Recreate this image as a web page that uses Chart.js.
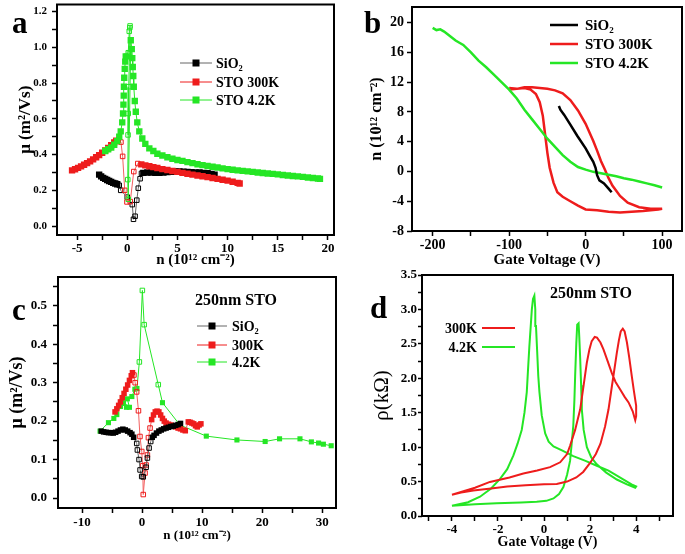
<!DOCTYPE html>
<html>
<head>
<meta charset="utf-8">
<script src="https://cdn.jsdelivr.net/npm/chart.js@4.4.1/dist/chart.umd.min.js"></script>
<style>
  body { margin: 0; background: #fff; width: 685px; height: 554px; overflow: hidden; position: relative; }
  canvas { position: absolute; }
</style>
</head>
<body>
<canvas id="ca" width="340" height="270" style="left:0;top:0"></canvas>
<canvas id="cb" width="345" height="270" style="left:340px;top:0"></canvas>
<canvas id="cc" width="340" height="284" style="left:0;top:270px"></canvas>
<canvas id="cd" width="345" height="284" style="left:340px;top:270px"></canvas>
<script>
// ---- panel a : mobility vs carrier density (n in 1e12 cm^-2, mu in m^2/Vs)
const aSiO2LeftX = [-2.8, -2.6, -2.4, -2.2, -2.0, -1.8, -1.6, -1.4, -1.2, -1.0];
const aSiO2LeftY = [0.288, 0.278, 0.27, 0.264, 0.258, 0.252, 0.247, 0.242, 0.238, 0.234];
const aSiO2MidX = [-0.8, -0.65, 0.0, 0.5, 0.62, 0.78, 0.95, 1.1, 1.28, 1.42];
const aSiO2MidY = [0.228, 0.2, 0.162, 0.12, 0.038, 0.055, 0.145, 0.212, 0.265, 0.295];
const aSiO2RightX = [1.6, 2.0, 2.4, 2.8, 3.2, 3.6, 4.0, 4.4, 4.8, 5.2, 5.6, 6.0, 6.4, 6.8, 7.2, 7.6, 8.0, 8.4, 8.7];
const aSiO2RightY = [0.298, 0.3, 0.3, 0.298, 0.298, 0.3, 0.302, 0.304, 0.306, 0.306, 0.304, 0.303, 0.302, 0.3, 0.3, 0.298, 0.296, 0.292, 0.288];

const aRedLeftX = [-5.5, -5.2, -4.9, -4.6, -4.3, -4.0, -3.7, -3.4, -3.1, -2.8, -2.5, -2.2, -1.9, -1.6, -1.3, -1.1];
const aRedLeftY = [0.312, 0.318, 0.326, 0.334, 0.343, 0.352, 0.362, 0.373, 0.385, 0.397, 0.41, 0.423, 0.437, 0.452, 0.468, 0.478];
const aRedMidX = [-0.9, -0.63, -0.46, -0.25, -0.03, 0.3, 0.65, 1.05];
const aRedMidY = [0.48, 0.47, 0.39, 0.2, 0.135, 0.137, 0.305, 0.35];
const aRedRightX = [1.4, 1.8, 2.2, 2.6, 3.0, 3.5, 4.0, 4.5, 5.0, 5.5, 6.0, 6.5, 7.0, 7.5, 8.0, 8.5, 9.0, 9.5, 10.0, 10.5, 11.0, 11.2];
const aRedRightY = [0.345, 0.34, 0.335, 0.33, 0.325, 0.319, 0.314, 0.308, 0.303, 0.298, 0.293, 0.288, 0.283, 0.279, 0.274, 0.269, 0.264, 0.259, 0.254, 0.248, 0.242, 0.238];

const aGreenLeftX = [-2.2, -1.9, -1.6, -1.3, -1.0, -0.8, -0.65, -0.5, -0.42, -0.38, -0.35, -0.33, -0.3, -0.25, -0.2, -0.15];
const aGreenLeftY = [0.42, 0.43, 0.44, 0.455, 0.475, 0.5, 0.53, 0.58, 0.63, 0.68, 0.73, 0.78, 0.83, 0.88, 0.92, 0.95];
const aGreenMidX = [-0.1, 0.1, 0.2, 0.25, 0.28, 0.22, 0.15, 0.1, 0.08, 0.05, 0.1];
const aGreenMidY = [0.95, 0.97, 1.09, 1.11, 1.12, 0.97, 0.78, 0.63, 0.51, 0.26, 0.15];
const aGreenRightX = [0.35, 0.45, 0.5, 0.55, 0.6, 0.65, 0.75, 0.85, 1.0, 1.2, 1.5, 1.8, 2.2, 2.6, 3.0, 3.5, 4.0, 4.5, 5.0,
  5.5, 6.0, 6.5, 7.0, 7.5, 8.0, 8.5, 9.0, 9.5, 10.0, 10.5, 11.0, 11.5, 12.0, 12.5, 13.0, 13.5, 14.0, 14.5, 15.0,
  15.5, 16.0, 16.5, 17.0, 17.5, 18.0, 18.5, 19.0, 19.2];
const aGreenRightY = [1.04, 0.99, 0.94, 0.89, 0.84, 0.78, 0.7, 0.64, 0.58, 0.53, 0.49, 0.46, 0.435, 0.42, 0.405, 0.395, 0.385, 0.377, 0.37,
  0.365, 0.358, 0.352, 0.346, 0.341, 0.336, 0.332, 0.328, 0.323, 0.319, 0.315, 0.312, 0.309, 0.306, 0.303, 0.3, 0.297, 0.294, 0.292, 0.289,
  0.286, 0.283, 0.28, 0.278, 0.275, 0.272, 0.269, 0.266, 0.264];

// ---- panel b : n vs gate voltage
const bSiO2V = [-35, -33, -28, -20, -11, 0, 6, 10, 13, 15, 18, 24, 30, 34];
const bSiO2N = [8.8, 8.3, 7.6, 6.3, 4.8, 3.1, 2.0, 1.3, 0.5, -0.5, -1.2, -1.6, -2.3, -2.8];
const bSto300V = [-100, -90, -80, -70, -60, -50, -40, -30, -20, -10, 0, 10, 15, 20, 25, 30, 35, 45, 55, 70, 85, 100,
  95, 85, 75, 60, 45, 30, 15, 0, -10, -20, -30, -37, -42, -47, -50, -53, -56, -60, -65, -72, -80, -90, -100];
const bSto300N = [11.2, 11.1, 11.3, 11.3, 11.2, 11.1, 10.9, 10.5, 9.6, 8.2, 6.4, 4.1, 2.8, 1.4, 0.3, -0.9, -1.9, -3.3, -4.2, -4.8, -5.0, -5.0,
  -5.1, -5.2, -5.3, -5.4, -5.5, -5.4, -5.2, -5.1, -4.6, -4.0, -3.4, -2.8, -1.5, 0.5, 2.5, 5.0, 7.5, 9.3, 10.4, 11.0, 11.2, 11.1, 11.0];
const bSto4V = [-200, -195, -190, -185, -180, -175, -170, -165, -160, -150, -140, -130, -120, -110, -100, -90, -80, -70, -60, -50,
  -40, -30, -20, -10, 0, 10, 20, 30, 40, 50, 60, 70, 80, 90, 100];
const bSto4N = [19.3, 19.0, 19.1, 18.8, 18.4, 18.0, 17.6, 17.3, 17.0, 16.0, 14.9, 14.0, 13.0, 12.0, 11.0, 9.8, 8.3, 7.0, 5.7, 4.4,
  3.3, 2.2, 1.3, 0.6, 0.25, -0.05, -0.25, -0.45, -0.65, -0.9, -1.1, -1.35, -1.6, -1.85, -2.15];

// ---- panel c : 250nm STO mobility
const cSiO2LeftX = [-6.8, -6.4, -6.0, -5.6, -5.2, -4.8, -4.4, -4.0, -3.6, -3.2, -2.8, -2.4, -2.0, -1.7, -1.4];
const cSiO2LeftY = [0.174, 0.172, 0.171, 0.17, 0.17, 0.169, 0.171, 0.174, 0.177, 0.179, 0.177, 0.174, 0.17, 0.166, 0.158];
const cSiO2MidX = [-0.89, -0.78, -0.5, -0.33, -0.06, 0.2, 0.67, 0.89, 1.17, 1.44];
const cSiO2MidY = [0.142, 0.125, 0.1, 0.073, 0.056, 0.055, 0.08, 0.104, 0.13, 0.147];
const cSiO2RightX = [1.7, 2.0, 2.4, 2.8, 3.2, 3.6, 4.0, 4.4, 4.8, 5.2, 5.6, 6.0, 6.4];
const cSiO2RightY = [0.158, 0.163, 0.169, 0.174, 0.177, 0.18, 0.182, 0.184, 0.186, 0.187, 0.189, 0.191, 0.194];

const cRedLeftX = [-4.5, -4.2, -3.9, -3.6, -3.3, -3.0, -2.7, -2.4, -2.1, -1.8, -1.6];
const cRedLeftY = [0.224, 0.232, 0.241, 0.25, 0.261, 0.272, 0.283, 0.294, 0.306, 0.318, 0.326];
const cRedMidX = [-1.35, -1.15, -0.9, -0.6, -0.35, -0.05, 0.1, 0.2, 0.5, 0.67, 0.89, 1.06, 1.33];
const cRedMidY = [0.32, 0.3, 0.276, 0.227, 0.16, 0.121, 0.084, 0.009, 0.065, 0.086, 0.112, 0.157, 0.182];
const cRedRightX = [1.6, 1.9, 2.2, 2.5, 2.8, 3.1, 3.4, 3.7, 4.0, 4.4, 4.8, 5.2, 5.6, 6.0, 6.4, 6.8, 7.2,
  7.7, 8.0, 8.3, 8.6, 8.9, 9.2, 9.5, 9.8];
const cRedRightY = [0.204, 0.216, 0.224, 0.226, 0.224, 0.216, 0.207, 0.2, 0.195, 0.192, 0.19, 0.188, 0.185, 0.182, 0.18, 0.177, 0.175,
  0.198, 0.197, 0.195, 0.193, 0.188, 0.185, 0.19, 0.193];

const cGreenLeftX = [-7.0, -5.6, -4.7, -4.2, -3.6, -3.1, -2.6, -3.3, -2.1, -2.45, -1.7, -1.2, -0.85];
const cGreenLeftY = [0.174, 0.196, 0.207, 0.217, 0.238, 0.246, 0.236, 0.252, 0.236, 0.258, 0.264, 0.283, 0.285];
const cGreenMidX = [-0.45, 0.05, 0.35, 2.7];
const cGreenMidY = [0.354, 0.54, 0.451, 0.295];
const cGreenRightX = [3.4, 6.3, 10.7, 15.8, 20.5, 22.9, 26.3, 28.2, 29.4, 30.2, 31.5];
const cGreenRightY = [0.248, 0.19, 0.161, 0.151, 0.147, 0.154, 0.154, 0.146, 0.143, 0.14, 0.136];

// ---- panel d : resistivity vs gate voltage (kOhm)
const d300V = [-4.0, -3.5, -3.0, -2.35, -1.5, -0.9, -0.3, 0.26, 0.7, 1.0, 1.13, 1.35, 1.57, 1.72, 1.86, 1.97, 2.07, 2.2, 2.3, 2.45,
  2.58, 2.75, 2.94, 3.1, 3.3, 3.5, 3.67, 3.85, 3.96, 4.0, 4.0, 3.9, 3.81, 3.7, 3.6, 3.5, 3.42, 3.33, 3.25, 3.16, 3.05, 2.94,
  2.8, 2.65, 2.45, 2.25, 2.0, 1.7, 1.4, 1.0, 0.55, 0.0, -0.8, -1.6, -2.3, -3.07, -3.6, -4.0];
const d300R = [0.31, 0.36, 0.41, 0.495, 0.56, 0.616, 0.66, 0.71, 0.78, 0.9, 1.02, 1.25, 1.55, 1.9, 2.23, 2.42, 2.54, 2.6, 2.59, 2.52,
  2.42, 2.26, 2.08, 1.95, 1.84, 1.73, 1.65, 1.52, 1.39, 1.45, 1.6, 1.82, 2.03, 2.3, 2.52, 2.68, 2.72, 2.68, 2.55, 2.37, 2.12, 1.87,
  1.55, 1.3, 1.05, 0.9, 0.77, 0.64, 0.56, 0.5, 0.465, 0.46, 0.445, 0.43, 0.4, 0.37, 0.34, 0.31];
const d4V = [-4.0, -3.0, -2.06, -1.0, -0.32, 0.1, 0.41, 0.65, 0.84, 1.0, 1.13, 1.2, 1.27, 1.32, 1.35, 1.4, 1.44, 1.5, 1.53, 1.57,
  1.61, 1.64, 1.72, 1.86, 2.05, 2.29, 2.7, 3.16, 3.6, 3.96, 4.0, 3.8, 3.6, 3.2, 2.8, 2.29, 1.8, 1.27, 0.8, 0.41, 0.2, 0.05, -0.1,
  -0.2, -0.25, -0.3, -0.35, -0.38, -0.42, -0.48, -0.53, -0.58, -0.64, -0.7, -0.75, -0.85, -0.97, -1.15, -1.33, -1.6, -1.91, -2.3,
  -2.78, -3.3, -4.0];
const d4R = [0.15, 0.17, 0.185, 0.195, 0.206, 0.22, 0.255, 0.32, 0.42, 0.6, 0.8, 1.05, 1.31, 1.7, 2.03, 2.5, 2.78, 2.8, 2.6, 2.28,
  1.9, 1.55, 1.25, 1.0, 0.85, 0.75, 0.63, 0.53, 0.46, 0.41, 0.43, 0.46, 0.5, 0.58, 0.66, 0.73, 0.8, 0.87, 0.95, 1.01, 1.08, 1.2, 1.46,
  1.8, 2.03, 2.4, 2.76, 3.0, 3.2, 3.15, 3.0, 2.75, 2.45, 2.1, 1.8, 1.5, 1.25, 1.05, 0.88, 0.68, 0.54, 0.4,
  0.28, 0.2, 0.15];

const RED = '#ee1c1c';
const GREEN = '#25e625';
const SERIF = "'Liberation Serif', 'Times New Roman', serif";

function pts(xs, ys) {
  return xs.map((x, i) => ({ x: x, y: ys[i] }));
}

// one series made of filled / open / filled marker runs joined by a thin line
function markerSeries(parts, color, lineColor, order, r) {
  const start = parts[0][0].length;
  const end = start + parts[1][0].length;
  const isOpen = c => c.dataIndex >= start && c.dataIndex < end;
  let data = [];
  parts.forEach(p => { data = data.concat(pts(p[0], p[1])); });
  return {
    data: data,
    showLine: true,
    borderColor: lineColor,
    borderWidth: 1,
    order: order,
    pointStyle: 'rect',
    pointRadius: c => isOpen(c) ? 3.2 : r,
    pointBackgroundColor: c => isOpen(c) ? 'rgba(0,0,0,0)' : color,
    pointBorderColor: color,
    pointBorderWidth: c => isOpen(c) ? 1 : 0
  };
}

function lineSeries(xs, ys, color, width, order) {
  return { data: pts(xs, ys), showLine: true, borderColor: color, borderWidth: width, pointRadius: 0, order: order };
}

function labelEvery(major, digits) {
  return v => Math.abs(v / major - Math.round(v / major)) < 1e-6 ? v.toFixed(digits) : '';
}

// fixed axis sizes so the plot boxes land where the figure has them
function fixSize(size) {
  return s => {
    if (s.isHorizontal()) s.height = size; else s.width = size;
    s.paddingTop = s.paddingBottom = s.paddingLeft = s.paddingRight = 0;
  };
}

function axis(o) {
  return {
    type: 'linear',
    min: o.min,
    max: o.max,
    afterFit: fixSize(o.size),
    border: { display: false },
    grid: { drawOnChartArea: false, drawTicks: true, tickLength: o.tick || 5, tickColor: '#000', tickWidth: 1.5 },
    ticks: {
      stepSize: o.step, autoSkip: false, includeBounds: false, maxRotation: 0, color: '#000',
      padding: o.pad, font: { family: SERIF, weight: 'bold', size: o.fs },
      callback: labelEvery(o.major, o.digits)
    },
    title: {
      display: true, text: o.title, color: '#000',
      font: { family: SERIF, weight: o.tw || 'bold', size: o.tfs },
      padding: o.tpad
    }
  };
}

// frame round the plot, legends and panel letters
const decor = {
  id: 'decor',
  afterDraw(chart, args, opts) {
    const { ctx, chartArea: a } = chart;
    ctx.save();
    ctx.strokeStyle = '#000';
    ctx.lineWidth = 2;
    ctx.strokeRect(a.left, a.top, a.right - a.left, a.bottom - a.top);
    (opts.items || []).forEach(it => {
      ctx.strokeStyle = it.line;
      ctx.lineWidth = it.lw;
      ctx.beginPath();
      ctx.moveTo(it.x1, it.y);
      ctx.lineTo(it.x2, it.y);
      ctx.stroke();
      if (it.mark) {
        ctx.fillStyle = it.color;
        ctx.fillRect((it.x1 + it.x2) / 2 - 3.5, it.y - 3.5, 7, 7);
      }
    });
    (opts.texts || []).forEach(t => {
      ctx.fillStyle = '#000';
      ctx.font = t.font;
      ctx.textAlign = t.align || 'left';
      ctx.textBaseline = t.base || 'middle';
      ctx.fillText(t.text, t.x, t.y);
    });
    ctx.restore();
  }
};

function makeChart(id, datasets, scales, padding, decorOpts) {
  return new Chart(document.getElementById(id), {
    type: 'scatter',
    data: { datasets: datasets },
    options: {
      responsive: false,
      animation: false,
      devicePixelRatio: 1,
      events: [],
      layout: { padding: padding },
      scales: scales,
      plugins: { legend: { display: false }, tooltip: { enabled: false }, decor: decorOpts }
    },
    plugins: [decor]
  });
}

const LEG = 'bold 14px ' + SERIF;
const LETTER = 'bold 31px ' + SERIF;

// panel a
makeChart('ca', [
  markerSeries([[aGreenLeftX, aGreenLeftY], [aGreenMidX, aGreenMidY], [aGreenRightX, aGreenRightY]], GREEN, GREEN, 1, 4.5),
  markerSeries([[aRedLeftX, aRedLeftY], [aRedMidX, aRedMidY], [aRedRightX, aRedRightY]], RED, '#f26060', 2, 4.5),
  markerSeries([[aSiO2LeftX, aSiO2LeftY], [aSiO2MidX, aSiO2MidY], [aSiO2RightX, aSiO2RightY]], '#000', '#666', 3, 4.5)
], {
  x: axis({ min: -7, max: 20.6, step: 2.5, major: 5, digits: 0, size: 35, fs: 13, pad: 1,
    title: 'n (10¹² cm⁻²)', tfs: 15, tpad: { top: 0, bottom: 1 } }),
  y: axis({ min: -0.05, max: 1.24, step: 0.1, major: 0.2, digits: 1, size: 57, fs: 11, pad: 5,
    title: 'μ (m²/Vs)', tfs: 17, tpad: { top: 15, bottom: 0 } })
}, { top: 4, right: 6, left: 0, bottom: 0 }, {
  items: [
    { x1: 180, x2: 212, y: 63, line: '#666', lw: 1, mark: true, color: '#000' },
    { x1: 180, x2: 212, y: 82, line: RED, lw: 1, mark: true, color: RED },
    { x1: 180, x2: 212, y: 100, line: GREEN, lw: 1, mark: true, color: GREEN }
  ],
  texts: [
    { text: 'SiO₂', x: 216, y: 64, font: LEG },
    { text: 'STO 300K', x: 216, y: 83, font: LEG },
    { text: 'STO 4.2K', x: 216, y: 101, font: LEG },
    { text: 'a', x: 12, y: 33, font: LETTER, base: 'alphabetic' }
  ]
});

// panel b
makeChart('cb', [
  lineSeries(bSiO2V, bSiO2N, '#000', 2.5, 1),
  lineSeries(bSto4V, bSto4N, GREEN, 2.5, 2),
  lineSeries(bSto300V, bSto300N, RED, 2.5, 3)
], {
  x: axis({ min: -227, max: 126, step: 50, major: 100, digits: 0, size: 39, fs: 14, pad: 1,
    title: 'Gate Voltage (V)', tfs: 15, tpad: { top: 0, bottom: 1 } }),
  y: axis({ min: -8, max: 22.1, step: 4, major: 4, digits: 0, size: 72, fs: 14, pad: 3,
    title: 'n (10¹² cm⁻²)', tfs: 16, tpad: { top: 27, bottom: 0 } })
}, { top: 7, right: 3, left: 0, bottom: 0 }, {
  items: [
    { x1: 210, x2: 238, y: 25, line: '#000', lw: 2.5 },
    { x1: 210, x2: 238, y: 44, line: RED, lw: 2.5 },
    { x1: 210, x2: 238, y: 63, line: GREEN, lw: 2.5 }
  ],
  texts: [
    { text: 'SiO₂', x: 245, y: 26, font: 'bold 15px ' + SERIF },
    { text: 'STO 300K', x: 245, y: 45, font: 'bold 15px ' + SERIF },
    { text: 'STO 4.2K', x: 245, y: 64, font: 'bold 15px ' + SERIF },
    { text: 'b', x: 24, y: 33, font: LETTER, base: 'alphabetic' }
  ]
});

// panel c
makeChart('cc', [
  markerSeries([[cGreenLeftX, cGreenLeftY], [cGreenMidX, cGreenMidY], [cGreenRightX, cGreenRightY]], GREEN, GREEN, 3, 3.6),
  markerSeries([[cRedLeftX, cRedLeftY], [cRedMidX, cRedMidY], [cRedRightX, cRedRightY]], RED, '#f26060', 2, 3.9),
  markerSeries([[cSiO2LeftX, cSiO2LeftY], [cSiO2MidX, cSiO2MidY], [cSiO2RightX, cSiO2RightY]], '#000', '#666', 1, 3.9)
], {
  x: axis({ min: -14, max: 32.3, step: 5, major: 10, digits: 0, size: 46, fs: 13, pad: 2,
    title: 'n (10¹² cm⁻²)', tfs: 13, tpad: { top: 0, bottom: 11 } }),
  y: axis({ min: -0.026, max: 0.575, step: 0.05, major: 0.1, digits: 1, size: 58, fs: 13, pad: 6,
    title: 'μ (m²/Vs)', tfs: 18, tpad: { top: 7, bottom: 0 } })
}, { top: 7, right: 4, left: 0, bottom: 0 }, {
  items: [
    { x1: 197, x2: 227, y: 56, line: '#666', lw: 1, mark: true, color: '#000' },
    { x1: 197, x2: 227, y: 75, line: RED, lw: 1, mark: true, color: RED },
    { x1: 197, x2: 227, y: 92, line: GREEN, lw: 1, mark: true, color: GREEN }
  ],
  texts: [
    { text: '250nm STO', x: 195, y: 31, font: 'bold 16px ' + SERIF },
    { text: 'SiO₂', x: 232, y: 57, font: LEG },
    { text: '300K', x: 232, y: 76, font: LEG },
    { text: '4.2K', x: 232, y: 93, font: LEG },
    { text: 'c', x: 12, y: 50, font: LETTER, base: 'alphabetic' }
  ]
});

// panel d
makeChart('cd', [
  lineSeries(d300V, d300R, RED, 2, 1),
  lineSeries(d4V, d4R, GREEN, 2, 2)
], {
  x: axis({ min: -5.3, max: 5.6, step: 1, major: 2, digits: 0, size: 38, fs: 13, pad: 1,
    title: 'Gate Voltage (V)', tfs: 14, tpad: { top: 0, bottom: 3 } }),
  y: axis({ min: 0, max: 3.5, step: 0.25, major: 0.5, digits: 1, size: 82, fs: 13, pad: 1, tick: 4,
    title: 'ρ(kΩ)', tfs: 21, tw: 'normal', tpad: { top: 30, bottom: 0 } })
}, { top: 5, right: 12, left: 0, bottom: 0 }, {
  items: [
    { x1: 142, x2: 175, y: 58, line: RED, lw: 2 },
    { x1: 142, x2: 175, y: 77, line: GREEN, lw: 2 }
  ],
  texts: [
    { text: '250nm STO', x: 210, y: 24, font: 'bold 16px ' + SERIF },
    { text: '300K', x: 137, y: 59, font: LEG, align: 'right' },
    { text: '4.2K', x: 137, y: 78, font: LEG, align: 'right' },
    { text: 'd', x: 30, y: 48, font: LETTER, base: 'alphabetic' }
  ]
});
</script>
</body>
</html>
